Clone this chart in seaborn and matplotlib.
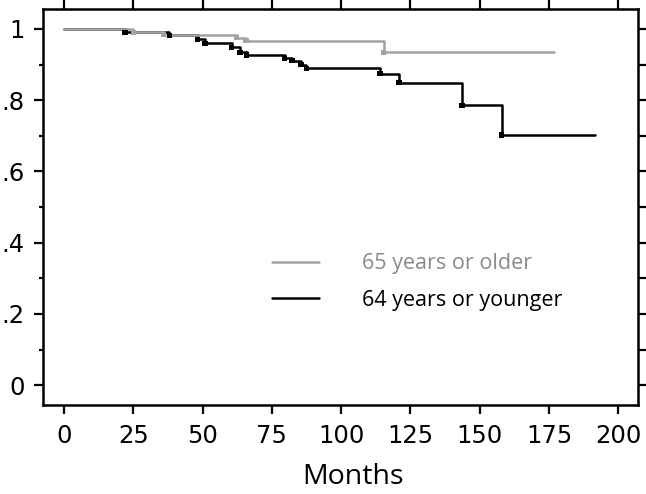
import numpy as np
import pandas as pd
import matplotlib
matplotlib.use('Agg')
import matplotlib.pyplot as plt
from matplotlib.lines import Line2D
import seaborn as sns

# survival steps (months, survival after the step)
old_months = [0, 25, 36, 62.4, 65.7, 115.4, 176.8]
old_surv = [1.0, 0.991, 0.984, 0.975, 0.967, 0.934, 0.934]

young_months = [0, 22, 38, 48.3, 50.9, 60.5, 63.5, 66.0, 79.7, 82.3, 85.5,
                87.5, 114.0, 120.9, 143.6, 157.9, 191.6]
young_surv = [1.0, 0.990, 0.982, 0.971, 0.960, 0.948, 0.934, 0.927, 0.918,
              0.911, 0.900, 0.890, 0.874, 0.849, 0.786, 0.702, 0.702]

groups = ['64 years or younger', '65 years or older']
colors = {'64 years or younger': '#000000', '65 years or older': '#a3a3a3'}
x_ticks = [0, 25, 50, 75, 100, 125, 150, 175, 200]
y_ticks = [0, 0.2, 0.4, 0.6, 0.8, 1.0]
y_labels = ['0', '.2', '.4', '.6', '.8', '1']

df = pd.concat([
    pd.DataFrame({'months': young_months, 'surv': young_surv, 'group': groups[0]}),
    pd.DataFrame({'months': old_months, 'surv': old_surv, 'group': groups[1]}),
], ignore_index=True)

# step marks (skip the start and the end of follow-up)
ev = pd.concat([
    pd.DataFrame({'months': young_months[1:-1], 'surv': young_surv[1:-1], 'group': groups[0]}),
    pd.DataFrame({'months': old_months[1:-1], 'surv': old_surv[1:-1], 'group': groups[1]}),
], ignore_index=True)

sns.set_style('ticks')
plt.rcParams['text.color'] = 'black'
plt.rcParams['axes.labelcolor'] = 'black'
plt.rcParams['xtick.color'] = 'black'
plt.rcParams['ytick.color'] = 'black'
tick_font = ['Liberation Sans Narrow', 'DejaVu Sans']

fig = plt.figure(figsize=(6.46, 4.94), dpi=100)
ax = fig.add_axes([0.0672, 0.180, 0.9204, 0.8018])

sns.lineplot(data=df, x='months', y='surv', hue='group', hue_order=groups,
             palette=colors, drawstyle='steps-post', estimator=None,
             sort=False, linewidth=1.8, legend=False, ax=ax)
sns.scatterplot(data=ev, x='months', y='surv', hue='group', hue_order=groups,
                palette=colors, marker='s', s=14, linewidth=0, legend=False,
                ax=ax, zorder=5)

ax.set_xlim(-7.4, 207.1)
ax.set_ylim(-0.056, 1.056)
ax.set_xticks(x_ticks)
ax.set_xticklabels([str(t) for t in x_ticks], fontfamily=tick_font, fontsize=17.5)
ax.set_yticks(y_ticks)
ax.set_yticklabels(y_labels, fontfamily=tick_font, fontsize=17.5)
ax.set_yticks(np.arange(0.1, 1.0, 0.2), minor=True)
ax.tick_params(axis='both', which='major', direction='out', length=6.5,
               width=1.6, colors='black', pad=7)
ax.tick_params(axis='y', which='minor', direction='out', length=3,
               width=1.6, colors='black')
for s in ax.spines.values():
    s.set_linewidth(1.8)
    s.set_color('black')
    s.set_visible(True)

top = ax.secondary_xaxis('top')
top.set_xticks(x_ticks)
top.set_xticklabels([])
top.tick_params(direction='out', length=6.5, width=1.6, colors='black')
right = ax.secondary_yaxis('right')
right.set_yticks(np.arange(0, 1.01, 0.1))
right.set_yticklabels([])
right.tick_params(direction='out', length=6.5, width=1.6, colors='black')

ax.set_ylabel('')
ax.set_xlabel('Months', fontfamily='Open Sans', fontsize=20.5, color='black')
ax.xaxis.set_label_coords(0.521, -0.145)

handles = [Line2D([], [], color=colors[groups[1]], lw=1.8),
           Line2D([], [], color=colors[groups[0]], lw=1.8)]
leg = ax.legend(handles, [groups[1], groups[0]], loc='center left',
                bbox_to_anchor=(0.3845, 0.311), frameon=False,
                prop={'family': 'Open Sans', 'size': 15.5},
                handlelength=2.2, handletextpad=2.0, labelspacing=0.72,
                borderpad=0, borderaxespad=0)
leg.get_texts()[0].set_color('#8a8a8a')
leg.get_texts()[1].set_color('black')

fig.savefig('out.png', dpi=100)
